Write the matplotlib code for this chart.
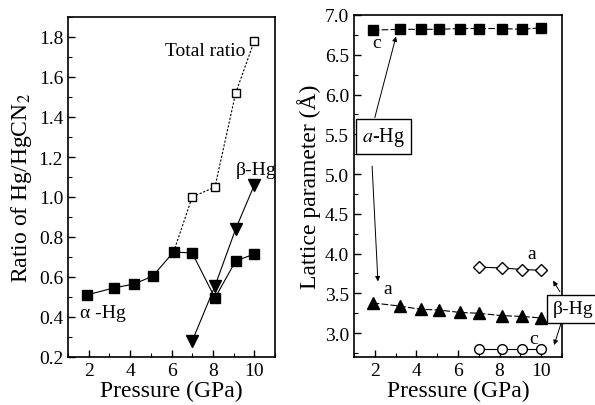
import matplotlib
matplotlib.use("Agg")
import matplotlib.pyplot as plt
from matplotlib.ticker import MultipleLocator

plt.rcParams['font.family'] = ['Liberation Serif', 'DejaVu Serif']
plt.rcParams['mathtext.fontset'] = 'stix'

# ---- Left panel data ----
p_alpha = [1.9, 3.2, 4.2, 5.1, 6.1, 7.0, 8.1, 9.1, 10.0]
ratio_alpha = [0.51, 0.545, 0.565, 0.605, 0.725, 0.72, 0.495, 0.68, 0.715]
p_total = [6.1, 7.0, 8.1, 9.1, 10.0]
ratio_total = [0.725, 1.0, 1.05, 1.52, 1.78]
p_beta = [7.0, 8.1, 9.1, 10.0]
ratio_beta = [0.28, 0.555, 0.84, 1.06]

# ---- Right panel data ----
c_alpha = [6.81, 6.82, 6.82, 6.82, 6.83, 6.83, 6.83, 6.82, 6.84]
a_alpha = [3.38, 3.34, 3.30, 3.29, 3.26, 3.25, 3.22, 3.21, 3.19]
a_beta = [3.83, 3.82, 3.80, 3.79]
c_beta = [2.80, 2.80, 2.80, 2.80]

fig = plt.figure(figsize=(5.95, 4.06), dpi=100)
ax1 = fig.add_axes([68/595, 1-358/406, (275-68)/595, (358-18)/406])
ax2 = fig.add_axes([354/595, 1-358/406, (562-354)/595, (358-16)/406])

tick_fs = 14
label_fs = 17
ann_fs = 14

ax1.plot(p_total, ratio_total, linestyle=(0, (2, 1.5)), color='black', lw=0.8,
         marker='s', mfc='white', mec='black', ms=6, mew=1.0, markevery=[1, 2, 3, 4])
ax1.plot(p_alpha, ratio_alpha, '-', color='black', lw=0.8, marker='s', ms=7, mfc='black', mec='black')
ax1.plot(p_beta, ratio_beta, '-', color='black', lw=0.8, marker='v', ms=8, mfc='black', mec='black')

ax1.set_xlim(1, 11)
ax1.set_ylim(0.2, 1.9)
ax1.set_xticks([2, 4, 6, 8, 10])
ax1.xaxis.set_minor_locator(MultipleLocator(1))
ax1.set_yticks([0.2, 0.4, 0.6, 0.8, 1.0, 1.2, 1.4, 1.6, 1.8])
ax1.set_yticklabels(['0.2', '0.4', '0.6', '0.8', '1.0', '1.2', '1.4', '1.6', '1.8'])
ax1.yaxis.set_minor_locator(MultipleLocator(0.1))
ax1.set_xlabel('Pressure (GPa)', fontsize=label_fs, labelpad=1)
ax1.set_ylabel('Ratio of Hg/HgCN$_2$', fontsize=label_fs, labelpad=3)
ax1.text(9.55, 1.73, 'Total ratio', fontsize=ann_fs, ha='right', va='center')
ax1.text(10.1, 1.14, 'β-Hg', fontsize=ann_fs, ha='center', va='center')
ax1.text(2.7, 0.425, 'α -Hg', fontsize=ann_fs, ha='center', va='center')

ax2.plot(p_alpha, c_alpha, linestyle=(0, (6, 2)), color='black', lw=0.8, marker='s', ms=7, mfc='black', mec='black')
ax2.plot(p_alpha, a_alpha, linestyle=(0, (6, 2)), color='black', lw=0.8, marker='^', ms=8, mfc='black', mec='black')
ax2.plot(p_beta, a_beta, '-', color='black', lw=0.8, marker='D', ms=6, mfc='white', mec='black', mew=1.0)
ax2.plot(p_beta, c_beta, '-', color='black', lw=0.8, marker='o', ms=7, mfc='white', mec='black', mew=1.0)

ax2.set_xlim(1, 11)
ax2.set_ylim(2.7, 7.0)
ax2.set_xticks([2, 4, 6, 8, 10])
ax2.xaxis.set_minor_locator(MultipleLocator(1))
ax2.set_yticks([3.0, 3.5, 4.0, 4.5, 5.0, 5.5, 6.0, 6.5, 7.0])
ax2.set_yticklabels(['3.0', '3.5', '4.0', '4.5', '5.0', '5.5', '6.0', '6.5', '7.0'])
ax2.yaxis.set_minor_locator(MultipleLocator(0.25))
ax2.set_xlabel('Pressure (GPa)', fontsize=label_fs, labelpad=1)
ax2.set_ylabel('Lattice parameter (Å)', fontsize=label_fs, labelpad=3)

ax2.text(2.1, 6.66, 'c', fontsize=ann_fs, ha='center', va='center')
ax2.text(2.6, 3.56, 'a', fontsize=ann_fs, ha='center', va='center')
ax2.text(9.56, 4.0, 'a', fontsize=ann_fs, ha='center', va='center')
ax2.text(9.65, 2.93, 'c', fontsize=ann_fs, ha='center', va='center')

ax2.text(2.44, 5.47, '$a$-Hg', fontsize=ann_fs + 0.5, ha='center', va='center',
         bbox=dict(boxstyle='square,pad=0.3', fc='white', ec='black', lw=1.0))
fig.text(593/595, 1-310/406, 'β-Hg', fontsize=ann_fs, ha='right', va='center',
         bbox=dict(boxstyle='square,pad=0.3', fc='white', ec='black', lw=1.0))

arrow = dict(arrowstyle='-|>', color='black', lw=0.7, mutation_scale=7, shrinkA=0, shrinkB=0)
ax2.annotate('', xy=(3.02, 6.73), xytext=(2.0, 5.71), arrowprops=arrow)
ax2.annotate('', xy=(2.15, 3.65), xytext=(1.87, 5.10), arrowprops=arrow)
ax2.annotate('', xy=(10.57, 3.66), xytext=(10.9, 3.52), arrowprops=arrow, annotation_clip=False)
ax2.annotate('', xy=(10.62, 2.85), xytext=(10.95, 3.12), arrowprops=arrow, annotation_clip=False)

for ax in (ax1, ax2):
    for s in ax.spines.values():
        s.set_linewidth(1.2)
    ax.tick_params(which='both', direction='in', top=False, right=False, labelsize=tick_fs)
    ax.tick_params(which='major', length=5, width=1.0)
    ax.tick_params(which='minor', length=3, width=0.8)

fig.savefig('out.png', dpi=100)
